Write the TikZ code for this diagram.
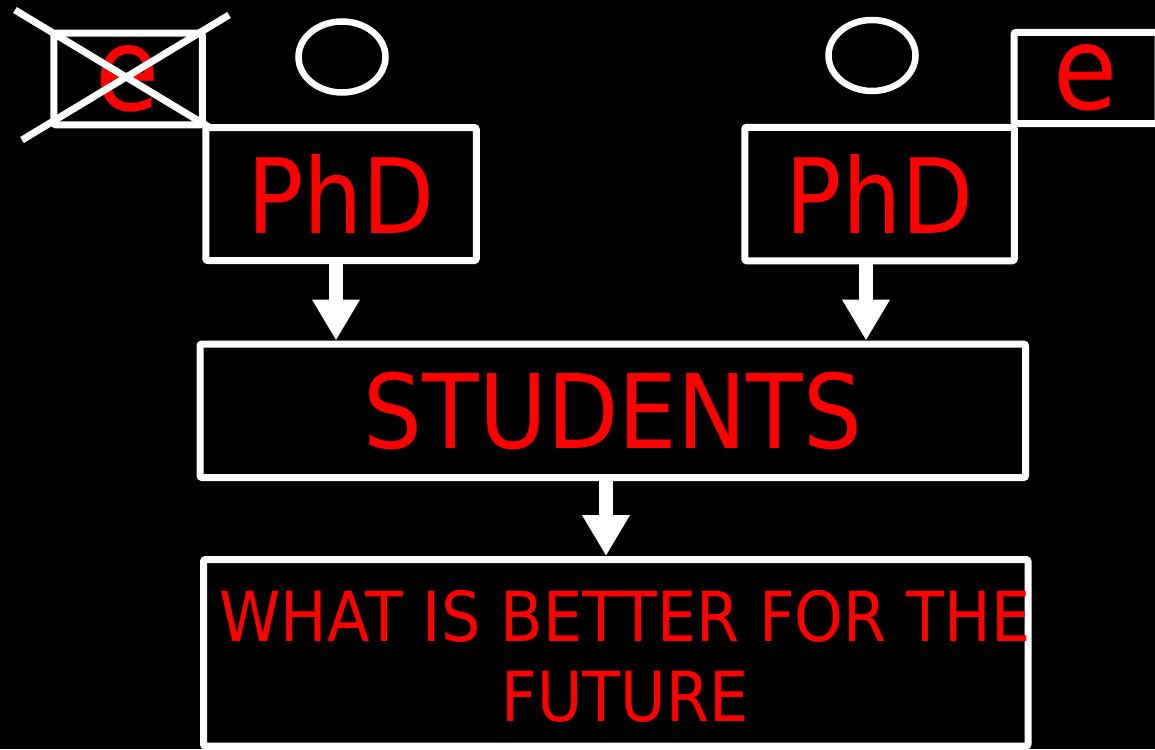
\documentclass[tikz,border=0pt]{standalone}
\usepackage{fontspec}
\setmainfont[FakeStretch=0.9]{DejaVu Sans}
\usetikzlibrary{arrows.meta,shapes.geometric}
\definecolor{txtred}{RGB}{255,0,0}
\begin{document}
\begin{tikzpicture}[x=1pt,y=-1pt,
  box/.style={draw=white,line width=7pt,rounded corners=2pt,inner sep=0pt,text=txtred,fill=black},
  oval/.style={draw=white,line width=6.5pt,ellipse,inner sep=0pt,minimum width=87pt,minimum height=71pt},
  crossline/.style={draw=white,line width=7pt},
  bigarrow/.style={draw=white,line width=14.5pt,-{Triangle[width=45pt,length=41pt]},fill=white},
  fphd/.style={font=\fontsize{104}{110}\selectfont},
  fe/.style={font=\fontsize{116}{120}\selectfont},
  fstud/.style={font=\fontsize{103}{110}\selectfont},
  fq/.style={font=\fontsize{69}{80}\selectfont}]
\useasboundingbox (0,0) rectangle (1155,749);
\fill[black] (0,0) rectangle (1155,749);

% crossed-out e box
\node[box,fe,minimum width=148.5pt,minimum height=91.5pt] (eL) at (128,79) {e};
\draw[crossline] (15,10) -- (227,138);
\draw[crossline] (22,140) -- (229,15);

% ovals
\node[oval] (ovL) at (342,57) {};
\node[oval] (ovR) at (872,55.5) {};

% right e box (runs off the right edge)
\node[box,fe,minimum width=144pt,minimum height=91pt] (eR) at (1086,78) {e};

% PhD boxes
\node[box,fphd,minimum width=270.5pt,minimum height=133pt] (phdL) at (341,194) {PhD};
\node[box,fphd,minimum width=269.5pt,minimum height=133.5pt] (phdR) at (879.5,194) {PhD};

% STUDENTS
\node[box,fstud,minimum width=825.5pt,minimum height=133.5pt] (students) at (612.75,410.75) {STUDENTS};

% bottom box
\node[box,minimum width=824.5pt,minimum height=186.5pt] (future) at (615.75,652.75) {};
\node[fq,text=txtred,align=center,inner sep=0pt] (futuretext) at (625,656.5) {WHAT IS BETTER FOR THE\\FUTURE};

% arrows
\coordinate (ax1) at (336,0);
\coordinate (ax2) at (866,0);
\coordinate (ax3) at (606,0);
\draw[bigarrow] (ax1 |- phdL.south) -- (ax1 |- students.north);
\draw[bigarrow] (ax2 |- phdR.south) -- (ax2 |- students.north);
\draw[bigarrow] (ax3 |- students.south) -- (ax3 |- future.north);
\end{tikzpicture}
\end{document}
